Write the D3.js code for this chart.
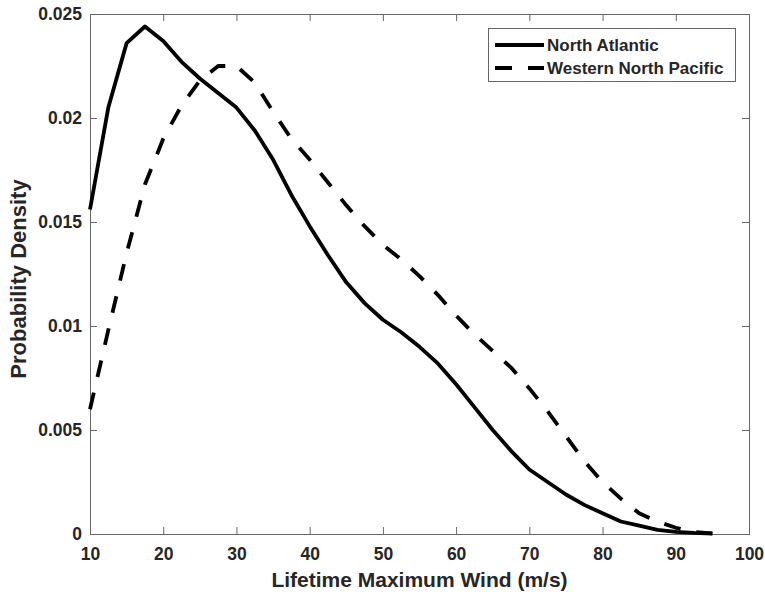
<!DOCTYPE html>
<html>
<head>
<meta charset="utf-8">
<script src="https://cdn.jsdelivr.net/npm/d3@7/dist/d3.min.js"></script>
<style>
  html, body { margin: 0; padding: 0; background: #fff; }
  svg { display: block; font-family: "Liberation Sans", Arial, Helvetica, sans-serif; }
</style>
</head>
<body>
<svg id="chart" width="765" height="592"></svg>
<script>
// Wind speed grid (m/s)
const windSpeed = [10, 12.5, 15, 17.5, 20, 22.5, 25, 27.5, 30, 32.5, 35, 37.5, 40, 42.5, 45, 47.5,
  50, 52.5, 55, 57.5, 60, 62.5, 65, 67.5, 70, 72.5, 75, 77.5, 80, 82.5, 85, 87.5, 90, 92.5, 95];

// Probability density of lifetime maximum wind, North Atlantic
const northAtlantic = [0.0156, 0.0205, 0.0236, 0.0244, 0.0237, 0.0227, 0.0219, 0.0212, 0.0205, 0.0194,
  0.0180, 0.0163, 0.0148, 0.0134, 0.0121, 0.0111, 0.0103, 0.0097, 0.0090, 0.0082, 0.0072, 0.0061,
  0.0050, 0.0040, 0.0031, 0.0025, 0.0019, 0.0014, 0.0010, 0.0006, 0.0004, 0.0002, 0.0001, 0.00005, 0.00002];

// Probability density of lifetime maximum wind, Western North Pacific
const westernNorthPacific = [0.0060, 0.0098, 0.0135, 0.0168, 0.0190, 0.0206, 0.0218, 0.0225, 0.0225, 0.0217,
  0.0203, 0.0190, 0.0180, 0.0169, 0.0158, 0.0148, 0.0139, 0.0132, 0.0124, 0.0115, 0.0105, 0.0096,
  0.0088, 0.0080, 0.0070, 0.0059, 0.0047, 0.0035, 0.0025, 0.0017, 0.0010, 0.0006, 0.0003, 0.0001, 0.00003];

const xTicks = [10, 20, 30, 40, 50, 60, 70, 80, 90, 100];
const yTicks = [0, 0.005, 0.01, 0.015, 0.02, 0.025];
const seriesNames = ["North Atlantic", "Western North Pacific"];

const svg = d3.select("#chart");
const plot = { left: 90, right: 749, top: 14, bottom: 534 };
const axisColor = "#666";
const textColor = "#262626";
const dash = "17,16";

const x = d3.scaleLinear().domain([10, 100]).range([plot.left, plot.right]);
const y = d3.scaleLinear().domain([0, 0.025]).range([plot.bottom, plot.top]);

const fmtY = d => d === 0 ? "0" : String(+d.toFixed(3));

function styleAxis(g, showLabels) {
  g.select(".domain").remove();
  g.selectAll(".tick line").attr("stroke", axisColor).attr("stroke-width", 1);
  g.selectAll(".tick text")
    .attr("fill", textColor)
    .style("font-size", "17.5px")
    .style("font-weight", "bold");
  if (!showLabels) g.selectAll(".tick text").remove();
}

// Bottom & top axes, ticks pointing inward
svg.append("g").attr("transform", `translate(0,${plot.bottom})`)
  .call(d3.axisBottom(x).tickValues(xTicks).tickSize(-7).tickPadding(14).tickFormat(d3.format("d")))
  .call(g => styleAxis(g, true));
svg.append("g").attr("transform", `translate(0,${plot.top})`)
  .call(d3.axisTop(x).tickValues(xTicks).tickSize(-7))
  .call(g => styleAxis(g, false));

// Left & right axes, ticks pointing inward
svg.append("g").attr("transform", `translate(${plot.left},0)`)
  .call(d3.axisLeft(y).tickValues(yTicks).tickSize(-7).tickPadding(8).tickFormat(fmtY))
  .call(g => styleAxis(g, true));
svg.append("g").attr("transform", `translate(${plot.right},0)`)
  .call(d3.axisRight(y).tickValues(yTicks).tickSize(-7))
  .call(g => styleAxis(g, false));

// Plot box
svg.append("rect")
  .attr("x", plot.left + 0.5).attr("y", plot.top + 0.5)
  .attr("width", plot.right - plot.left).attr("height", plot.bottom - plot.top)
  .attr("fill", "none").attr("stroke", axisColor).attr("stroke-width", 1);

// Density curves
const line = d3.line().x(d => x(d[0])).y(d => y(d[1]));
const series = [
  { name: seriesNames[0], values: northAtlantic, dash: null },
  { name: seriesNames[1], values: westernNorthPacific, dash: dash }
];
series.forEach(s => {
  svg.append("path")
    .datum(windSpeed.map((w, i) => [w, s.values[i]]))
    .attr("d", line)
    .attr("fill", "none")
    .attr("stroke", "#000")
    .attr("stroke-width", 3.8)
    .attr("stroke-linejoin", "round")
    .attr("stroke-dasharray", s.dash);
});

// Axis titles
svg.append("text")
  .attr("x", (plot.left + plot.right) / 2).attr("y", 587)
  .attr("text-anchor", "middle")
  .attr("fill", textColor)
  .style("font-size", "21px").style("font-weight", "bold")
  .text("Lifetime Maximum Wind (m/s)");

svg.append("text")
  .attr("transform", `translate(26,${(plot.top + plot.bottom) / 2 + 5}) rotate(-90)`)
  .attr("text-anchor", "middle")
  .attr("fill", textColor)
  .style("font-size", "22px").style("font-weight", "bold")
  .text("Probability Density");

// Legend
const legend = svg.append("g");
legend.append("rect")
  .attr("x", 488.5).attr("y", 28.5).attr("width", 247).attr("height", 53)
  .attr("fill", "#fff").attr("stroke", axisColor).attr("stroke-width", 1);
series.forEach((s, i) => {
  const ly = 45 + i * 23;
  legend.append("line")
    .attr("x1", 495).attr("x2", 544).attr("y1", ly).attr("y2", ly)
    .attr("stroke", "#000").attr("stroke-width", 3.8)
    .attr("stroke-dasharray", s.dash);
  legend.append("text")
    .attr("x", 547).attr("y", ly).attr("dy", "0.36em")
    .attr("fill", textColor)
    .style("font-size", "17px").style("font-weight", "bold")
    .text(s.name);
});
</script>
</body>
</html>
